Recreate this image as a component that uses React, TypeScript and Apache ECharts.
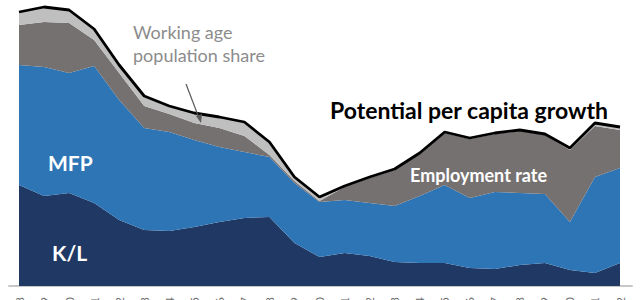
import React, { useEffect, useRef } from "react";
import * as echarts from "echarts";

const years = [
  "1998", "1999", "2000", "2001", "2002", "2003", "2004", "2005", "2006", "2007",
  "2008", "2009", "2010", "2011", "2012", "2013", "2014", "2015", "2016", "2017",
  "2018", "2019", "2020", "2021", "2022",
];
const capitalDeepening = [1.01, 0.9, 0.93, 0.83, 0.66, 0.56, 0.55, 0.59, 0.64, 0.68, 0.69, 0.43, 0.29, 0.33, 0.3, 0.24, 0.23, 0.23, 0.18, 0.17, 0.21, 0.23, 0.16, 0.13, 0.23];
const mfp = [1.2, 1.29, 1.2, 1.37, 1.2, 1.02, 0.99, 0.87, 0.75, 0.66, 0.6, 0.6, 0.55, 0.53, 0.53, 0.56, 0.67, 0.78, 0.7, 0.77, 0.72, 0.69, 0.48, 0.96, 0.95];
const employmentRate = [0.4, 0.45, 0.5, 0.26, 0.27, 0.22, 0.18, 0.17, 0.19, 0.16, 0.02, 0.02, 0.01, 0.13, 0.25, 0.36, 0.42, 0.52, 0.59, 0.58, 0.62, 0.59, 0.72, 0.51, 0.38];
const workingAgeShare = [0.13, 0.15, 0.13, 0.11, 0.08, 0.1, 0.08, 0.1, 0.11, 0.14, 0.13, 0.04, 0.04, 0.01, 0.01, 0.01, 0.01, 0.01, 0.01, 0.01, 0.01, 0.01, 0.02, 0.03, 0.03];

const potentialPerCapita = years.map((_, i) =>
  Math.round((capitalDeepening[i] + mfp[i] + employmentRate[i] + workingAgeShare[i]) * 100) / 100
);

const FONT = "Lato, 'Open Sans', sans-serif";

export default function App() {
  const ref = useRef<HTMLDivElement>(null);
  useEffect(() => {
    if (!ref.current) return;
    const chart = echarts.init(ref.current, undefined, { renderer: "svg" });
    const area = (name: string, data: number[], color: string) => ({
      name,
      type: "line",
      stack: "total",
      data,
      symbol: "none",
      lineStyle: { width: 0 },
      areaStyle: { color, opacity: 1 },
      itemStyle: { color },
      xAxisIndex: 0,
      yAxisIndex: 0,
    });
    chart.setOption({
      animation: false,
      backgroundColor: "#ffffff",
      grid: [
        { left: 19, right: 22, top: 0, bottom: 44 },
        { left: 9, right: 10, top: 0, bottom: 44 },
      ],
      xAxis: [
        {
          type: "category",
          gridIndex: 0,
          data: years,
          boundaryGap: false,
          axisLine: { show: false },
          axisTick: { show: false },
          axisLabel: {
            interval: 0,
            rotate: 90,
            margin: 11,
            fontSize: 12,
            color: "#6f6f6f",
            fontFamily: FONT,
          },
          splitLine: { show: false },
        },
        {
          type: "value",
          gridIndex: 1,
          min: 0,
          max: 1,
          axisLine: { show: true, lineStyle: { color: "#c8c8c8", width: 2 } },
          axisTick: { show: false },
          axisLabel: { show: false },
          splitLine: { show: false },
        },
      ],
      yAxis: [
        {
          type: "value",
          gridIndex: 0,
          min: 0,
          max: 2.86,
          show: false,
          splitLine: { show: false },
        },
        {
          type: "value",
          gridIndex: 1,
          min: 0,
          max: 1,
          show: false,
          splitLine: { show: false },
        },
      ],
      series: [
        area("K/L", capitalDeepening, "#1f3864"),
        area("MFP", mfp, "#2e75b6"),
        area("Employment rate", employmentRate, "#767171"),
        area("Working age population share", workingAgeShare, "#bfbfbf"),
        {
          name: "Potential per capita growth",
          type: "line",
          data: potentialPerCapita,
          symbol: "none",
          lineStyle: { color: "#000000", width: 2.8 },
          z: 5,
        },
      ],
      graphic: [
        {
          type: "text",
          x: 133,
          y: 43,
          style: {
            text: "Working age\npopulation share",
            fill: "#8c8c8c",
            font: `18px ${FONT}`,
            lineHeight: 23,
            textVerticalAlign: "middle",
          },
        },
        {
          type: "line",
          shape: { x1: 186, y1: 84, x2: 199, y2: 118 },
          style: { stroke: "#595959", lineWidth: 1.2 },
          z: 10,
        },
        {
          type: "polygon",
          shape: { points: [[196, 116], [202, 114], [201, 123]] },
          style: { fill: "#595959" },
          z: 10,
        },
        {
          type: "text",
          x: 330,
          y: 110,
          style: {
            text: "Potential per capita growth",
            fill: "#000000",
            font: `bold 23px ${FONT}`,
            textVerticalAlign: "middle",
          },
          z: 10,
        },
        {
          type: "text",
          x: 410,
          y: 175,
          style: {
            text: "Employment rate",
            fill: "#ffffff",
            font: `bold 18px ${FONT}`,
            textVerticalAlign: "middle",
          },
          z: 10,
        },
        {
          type: "text",
          x: 48,
          y: 162,
          style: {
            text: "MFP",
            fill: "#ffffff",
            font: `bold 21px ${FONT}`,
            textVerticalAlign: "middle",
          },
          z: 10,
        },
        {
          type: "text",
          x: 52,
          y: 252,
          style: {
            text: "K/L",
            fill: "#ffffff",
            font: `bold 21px ${FONT}`,
            textVerticalAlign: "middle",
          },
          z: 10,
        },
      ],
    });
    return () => chart.dispose();
  }, []);
  return (
    <div
      style={{
        position: "fixed",
        left: 0,
        top: 0,
        width: 642,
        height: 300,
        overflow: "hidden",
        background: "#ffffff",
      }}
    >
      <div ref={ref} style={{ width: 642, height: 330 }} />
    </div>
  );
}
